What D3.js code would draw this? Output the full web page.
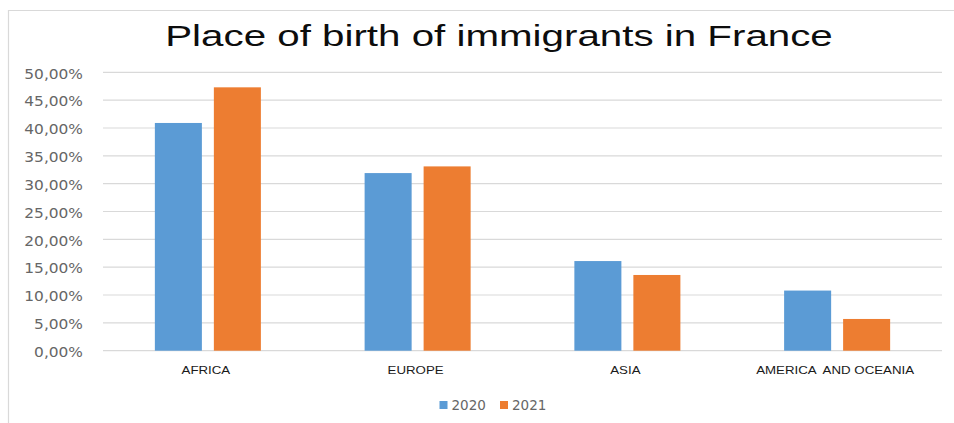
<!DOCTYPE html>
<html>
<head>
<meta charset="utf-8">
<script src="https://cdn.jsdelivr.net/npm/d3@7"></script>
<style>
  html, body { margin: 0; padding: 0; background: #ffffff; }
  svg { display: block; }
</style>
</head>
<body>
<svg id="chart" width="954" height="423"></svg>
<script>
// ---- data ----
const categories = ["AFRICA", "EUROPE", "ASIA", "AMERICA  AND OCEANIA"];
const seriesNames = ["2020", "2021"];
const values2020 = [0.409, 0.319, 0.161, 0.108];
const values2021 = [0.473, 0.331, 0.136, 0.057];
const yTicks = [0, 0.05, 0.10, 0.15, 0.20, 0.25, 0.30, 0.35, 0.40, 0.45, 0.50];
const titleText = "Place of birth of immigrants in France";

const colors = { "2020": "#5B9BD5", "2021": "#ED7D31" };
const seriesValues = { "2020": values2020, "2021": values2021 };

const svg = d3.select("#chart");
const W = 954, H = 423;

const plot = { left: 103, right: 942, top: 72.3, bottom: 350.7 };

const frLocale = d3.formatLocale({ decimal: ",", thousands: ".", grouping: [3], currency: ["", "€"] });
const pct = frLocale.format(".2%");

// horizontal stretch helper (reference image text is horizontally stretched)
function placeText(sel, x, y, sx) {
  sel.attr("x", 0).attr("y", 0)
     .attr("transform", `translate(${x},${y}) scale(${sx},1)`);
}

// chart frame (cropped at right/bottom as in the reference)
svg.append("path")
  .attr("d", `M8.5,${H} L8.5,10.5 L${W},10.5`)
  .attr("fill", "none")
  .attr("stroke", "#d9d9d9")
  .attr("stroke-width", 1.2);

// scales
const x0 = d3.scaleBand().domain(categories).range([plot.left, plot.right]).paddingInner(0).paddingOuter(0);
const x1 = d3.scaleBand().domain(seriesNames).range([0, x0.bandwidth()]).paddingInner(0.203).paddingOuter(0.879);
const y = d3.scaleLinear().domain([0, 0.5]).range([plot.bottom, plot.top]);

// gridlines
svg.append("g")
  .selectAll("line")
  .data(yTicks)
  .join("line")
  .attr("x1", plot.left).attr("x2", plot.right)
  .attr("y1", d => y(d)).attr("y2", d => y(d))
  .attr("stroke", "#d9d9d9")
  .attr("stroke-width", 1.2);

// y tick labels
svg.append("g")
  .selectAll("text")
  .data(yTicks)
  .join("text")
  .text(d => pct(d))
  .attr("text-anchor", "end")
  .attr("dominant-baseline", "central")
  .attr("font-family", "DejaVu Sans, sans-serif")
  .attr("font-size", 14)
  .attr("fill", "#666666")
  .each(function(d) { placeText(d3.select(this), 83, y(d) + 1, 1.1); });

// bars
const groups = svg.append("g")
  .selectAll("g")
  .data(categories.map((c, i) => ({ cat: c, i })))
  .join("g")
  .attr("transform", d => `translate(${x0(d.cat)},0)`);

groups.selectAll("rect")
  .data(d => seriesNames.map(s => ({ s, v: seriesValues[s][d.i] })))
  .join("rect")
  .attr("x", d => x1(d.s))
  .attr("width", x1.bandwidth())
  .attr("y", d => y(d.v))
  .attr("height", d => y(0) - y(d.v))
  .attr("fill", d => colors[d.s]);

// category labels
svg.append("g")
  .selectAll("text")
  .data(categories)
  .join("text")
  .attr("xml:space", "preserve")
  .text(d => d)
  .attr("text-anchor", "middle")
  .attr("font-family", "Liberation Sans, Arial, sans-serif")
  .attr("font-size", 10)
  .attr("fill", "#1a1a1a")
  .each(function(d) { placeText(d3.select(this), x0(d) + x0.bandwidth() / 2 - 2, 374, 1.33); });

// title
svg.append("text")
  .text(titleText)
  .attr("text-anchor", "middle")
  .attr("font-family", "Liberation Sans, Arial, sans-serif")
  .attr("font-size", 29)
  .attr("fill", "#0d0d0d")
  .call(sel => placeText(sel, 499, 46, 1.39));

// legend
const legendPos = { "2020": 439.5, "2021": 500 };
const legend = svg.append("g")
  .selectAll("g")
  .data(seriesNames)
  .join("g")
  .attr("transform", d => `translate(${legendPos[d]},401)`);
legend.append("rect")
  .attr("width", 8).attr("height", 8)
  .attr("fill", d => colors[d]);
legend.append("text")
  .text(d => d)
  .attr("x", 12).attr("y", 8.5)
  .attr("font-family", "DejaVu Sans, sans-serif")
  .attr("font-size", 13.5)
  .attr("fill", "#666666");
</script>
</body>
</html>
